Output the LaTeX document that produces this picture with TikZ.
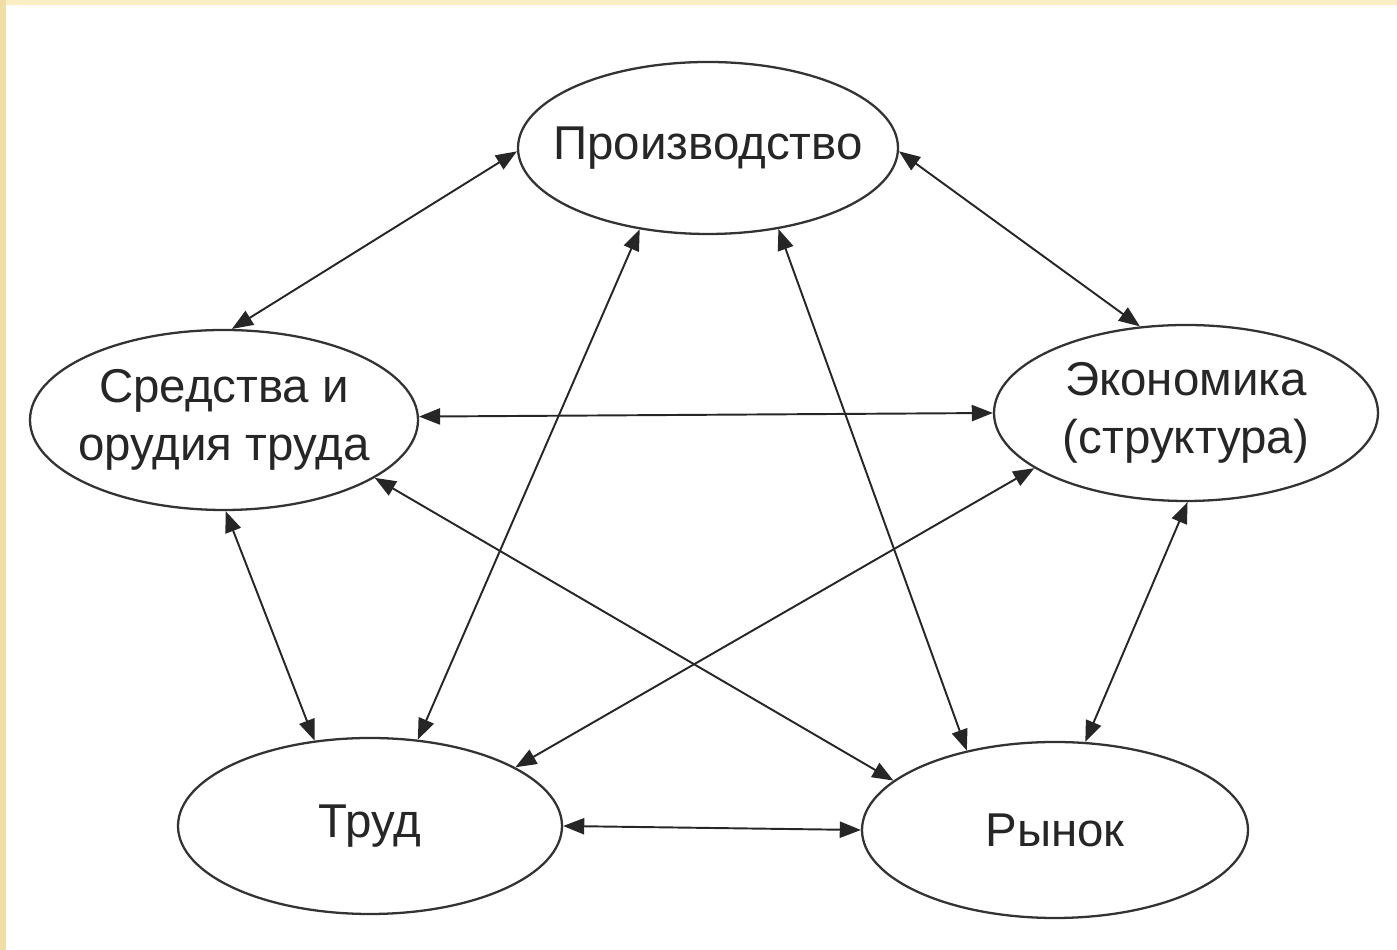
\documentclass[tikz,border=0pt]{standalone}
\usepackage{fontspec}
\setmainfont{Liberation Sans}
\usepackage{tikz}
\usetikzlibrary{shapes.geometric,arrows.meta}

\definecolor{bandtop}{RGB}{251,238,196}
\definecolor{bandleft}{RGB}{240,222,165}

\begin{document}
\begin{tikzpicture}[font=\fontsize{13.5}{16.5}\selectfont,
    >={Triangle[length=6pt,width=4.6pt]},x=1cm,y=1cm,
    oval/.style={ellipse,draw=black!80,line width=0.65pt,
        inner xsep=-0.3cm,inner ysep=0pt,
        minimum width=3.84cm,minimum height=1.76cm,
        align=center,text=black!85},
    link/.style={<->,line width=0.55pt,draw=black!85}]
    \useasboundingbox (0,0) rectangle (13.97,9.50);

    % Frame band.
    \fill[bandtop] (0,9.45) rectangle (13.97,9.50);
    \fill[bandleft] (0,0) rectangle (0.06,9.50);

    % Ovals.
    \node[oval,minimum width=3.80cm,minimum height=1.72cm] (prod)
        at (7.08,8.02) {Производство};
    \node[oval,minimum width=3.88cm,minimum height=1.80cm] (sredstva)
        at (2.24,5.30) {Средства и\\орудия труда};
    \node[oval] (ekon) at (11.86,5.37) {Экономика\\(структура)};
    \node[oval] (trud) at (3.70,1.24) {Труд};
    \node[oval,minimum width=3.86cm] (rynok) at (10.55,1.20) {Рынок};

    % Links, every pair.
    \foreach \aa/\bb in {prod.181/sredstva.85, prod.-1/ekon.118,
        prod.230/trud.61, prod.-49/rynok.138,
        sredstva.1/ekon.180, sredstva.-21/rynok.163,
        sredstva.-89/trud.123, ekon.200/trud.22,
        ekon.-89/rynok.71, trud.0/rynok.180}{
        \draw[link] (\aa) -- (\bb);
    }
\end{tikzpicture}
\end{document}
